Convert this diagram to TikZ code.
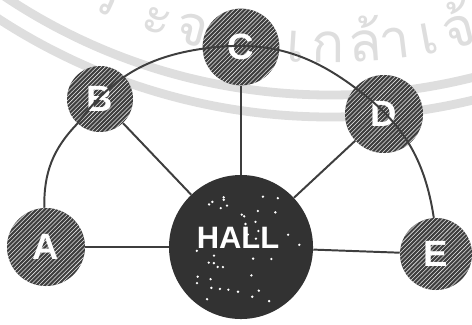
\documentclass[tikz,border=0pt]{standalone}
\usepackage{fontspec}
\usepackage{tikz}
\usetikzlibrary{patterns,calc}
\newfontfamily\labelfont{Liberation Sans}
\newfontfamily\thaifont[Script=Thai]{Loma}
\definecolor{inkgray}{RGB}{62,62,62}
\definecolor{hallgray}{RGB}{50,50,50}
\definecolor{sealgray}{RGB}{222,222,222}

\begin{document}
\begin{tikzpicture}[x=0.025cm, y=0.025cm,
    room/.style={circle, inner sep=0pt, preaction={fill=inkgray},
      pattern=north east lines, pattern color=white!80!gray,
      text=white, font=\labelfont\bfseries\fontsize{26}{26}\selectfont},
    hallnode/.style={circle, inner sep=0pt, fill=hallgray, minimum size=3.6cm},
    link/.style={line width=1.4pt, inkgray},
    wmark/.style={sealgray, inner sep=0pt, anchor=base,
      font=\thaifont\fontsize{39}{39}\selectfont}]
  \useasboundingbox (0,0) rectangle (472,324);
  \clip (0,0) rectangle (472,324);

  % faint seal behind everything
  \coordinate (seal) at (330,815);
  \draw[sealgray, line width=0.22cm] (seal) circle (586);
  \draw[sealgray, line width=0.22cm] (seal) circle (608);
  \foreach \g/\b [count=\i] in {ร/-24.6, ะ/-18.7, จ/-14.9, เ/-3.6, ก/-0.2,
      ล้/3.8, า/6.9, เ/10.6, จ้/13.9}
    \node[wmark, rotate=\b] (w\i) at ($(seal)+(270+\b:554)$) {\g};

  % rooms round the hall
  \node[room, minimum size=1.95cm] (A) at (46,77) {A};
  \node[room, minimum size=1.65cm] (B) at (100,225) {B};
  \node[room, minimum size=1.92cm] (C) at (241,277) {C};
  \node[room, minimum size=1.95cm] (D) at (384,210) {D};
  \node[room, minimum size=1.8cm] (E) at (436,70) {E};

  % the hall, speckled
  \node[hallnode] (hall) at (241,77) {};
  \pgfmathsetseed{11}
  \foreach \k in {1,...,40}{
    \pgfmathsetmacro{\ang}{rnd*360}
    \pgfmathsetmacro{\rad}{sqrt(rnd)*64}
    \fill[white] ($(hall)+(\ang:\rad)$) circle (1.3);
  }
  \node[text=white, font=\labelfont\bfseries\fontsize{22}{22}\selectfont]
    (halllabel) at ($(hall)+(-3,9)$) {HALL};

  % spokes and rim
  \foreach \r in {A,B,C,D,E}
    \draw[link] (hall) -- (\r);
  \draw[link] (A) to[bend left=22.5] (B) to[bend left=22.5] (C)
    to[bend left=22.5] (D) to[bend left=22.5] (E);
\end{tikzpicture}
\end{document}
